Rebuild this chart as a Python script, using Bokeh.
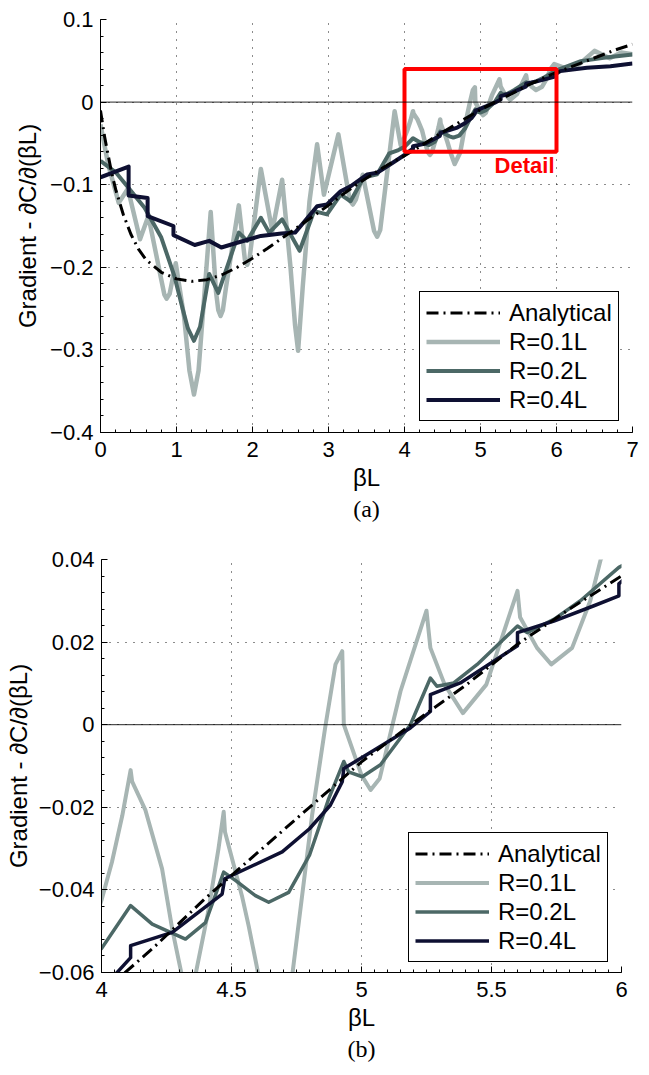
import numpy as np
from bokeh.plotting import figure
from bokeh.models import (Span, Legend, LegendItem, FixedTicker,
                          CustomJSTickFormatter, Title, Range1d)
from bokeh.core.properties import value
from bokeh.embed import file_html
from bokeh.resources import INLINE

# ---------------------------------------------------------------- data
# Analytical gradient
x_analytical = [0.0, 0.05, 0.1, 0.15, 0.2, 0.3, 0.4, 0.5, 0.6, 0.8, 1.0, 1.2, 1.4,
                1.6, 1.8, 2.0, 2.2, 2.4, 2.6, 2.8, 3.0, 3.2, 3.4, 3.6, 3.8, 4.0,
                4.2, 4.4, 4.6, 4.8, 5.0, 5.2, 5.4, 5.6, 5.8, 6.0, 6.2, 6.4, 6.6,
                6.8, 7.0]
y_analytical = [-0.010, -0.040, -0.064, -0.087, -0.106, -0.136, -0.160, -0.178,
                -0.191, -0.206, -0.214, -0.217, -0.215, -0.209, -0.200, -0.189,
                -0.177, -0.164, -0.151, -0.138, -0.125, -0.111, -0.098, -0.086,
                -0.075, -0.065, -0.054, -0.042, -0.031, -0.020, -0.009, 0.0005,
                0.0095, 0.0195, 0.028, 0.036, 0.043, 0.050, 0.057, 0.064, 0.070]

# R = 0.1L
x_r01 = [0.00, 0.10, 0.24, 0.36, 0.52, 0.63, 0.80, 0.84, 0.87, 0.91, 0.99, 1.10,
         1.17, 1.23, 1.29, 1.45, 1.52, 1.55, 1.58, 1.61, 1.65, 1.82, 1.90, 1.93,
         1.96, 2.11, 2.26, 2.39, 2.50, 2.56, 2.60, 2.66, 2.75, 2.85, 2.94, 3.13,
         3.28, 3.32, 3.36, 3.45, 3.60, 3.64, 3.68, 3.87, 3.95, 4.00,
         4.04, 4.08, 4.112, 4.118, 4.169, 4.233, 4.272, 4.31, 4.335, 4.36, 4.41,
         4.45, 4.47, 4.475, 4.54, 4.566, 4.605, 4.66, 4.733, 4.81, 4.86, 4.90,
         4.926, 4.932, 5.00, 5.035, 5.07, 5.15, 5.25, 5.265, 5.32, 5.39, 5.48,
         5.60, 5.61, 5.675, 5.73, 5.81, 5.88, 5.92, 5.97, 6.15, 6.30, 6.50,
         6.70, 6.85, 7.00]
y_r01 = [-0.027, -0.075, -0.122, -0.105, -0.166, -0.138, -0.215, -0.233, -0.238,
         -0.232, -0.195, -0.260, -0.325, -0.354, -0.325, -0.133, -0.230, -0.252,
         -0.259, -0.252, -0.225, -0.125, -0.191, -0.197, -0.190, -0.081, -0.156,
         -0.094, -0.200, -0.270, -0.301, -0.225, -0.120, -0.051, -0.112, -0.039,
         -0.119, -0.124, -0.118, -0.088, -0.156, -0.163, -0.155, -0.011, -0.052,
         -0.0425, -0.0333, -0.022, -0.0110, -0.0138, -0.0207, -0.0349, -0.0495,
         -0.061, -0.064, -0.061, -0.0454, -0.030, -0.0211, -0.026, -0.0414,
         -0.0487, -0.061, -0.075, -0.061, -0.0219, -0.0008, 0.0146, 0.0178, 0.0,
         -0.0122, -0.0158, -0.0130, 0.0081, 0.0276, 0.0186, 0.0097, 0.0028,
         0.0097, 0.0324, 0.026, 0.0186, 0.0146, 0.0186, 0.030, 0.040, 0.046,
         0.040, 0.046, 0.062, 0.053, 0.060, 0.058]

# R = 0.2L
x_r02 = [0.00, 0.20, 0.37, 0.58, 0.80, 0.97, 1.08, 1.15, 1.23, 1.31, 1.43, 1.55,
         1.82, 1.93, 2.11, 2.22, 2.39, 2.62, 2.81, 2.98, 3.16, 3.29, 3.46, 3.64,
         3.80, 3.92, 4.00, 4.112, 4.195, 4.323, 4.40, 4.47, 4.515, 4.592, 4.643,
         4.72, 4.80, 4.874, 4.932, 4.95, 5.003, 5.073, 5.188, 5.265, 5.29, 5.355,
         5.445, 5.60, 5.637, 5.74, 5.842, 5.99, 6.32, 6.62, 7.00]
y_r02 = [-0.071, -0.085, -0.104, -0.128, -0.164, -0.210, -0.250, -0.274, -0.289,
         -0.272, -0.208, -0.231, -0.158, -0.168, -0.140, -0.158, -0.142, -0.180,
         -0.132, -0.136, -0.112, -0.120, -0.0915, -0.0875, -0.062, -0.058,
         -0.0542, -0.0438, -0.0483, -0.0519, -0.0479, -0.0357, -0.0377, -0.0414,
         -0.0430, -0.0406, -0.0316, -0.0179, -0.0089, -0.0114, -0.0126, -0.0097,
         0.0, 0.0113, 0.0093, 0.0101, 0.0146, 0.0239, 0.0223, 0.0255, 0.0300,
         0.0381, 0.0496, 0.0536, 0.0577]

# R = 0.4L
x_r04 = [0.00, 0.37, 0.37, 0.62, 0.62, 0.96, 0.96, 1.24, 1.43, 1.59, 1.81, 2.11,
         2.38, 2.56, 2.67, 2.85, 2.98, 3.16, 3.29, 3.51, 3.64, 3.82, 4.00, 4.054,
         4.112, 4.112, 4.272, 4.464, 4.474, 4.695, 4.80, 4.88, 4.926, 4.932,
         5.04, 5.188, 5.265, 5.265, 5.38, 5.60, 5.60, 5.74, 5.894, 5.99, 5.99,
         6.05, 6.40, 6.71, 7.00]
y_r04 = [-0.091, -0.078, -0.113, -0.116, -0.138, -0.150, -0.161, -0.173, -0.168,
         -0.176, -0.170, -0.162, -0.159, -0.158, -0.146, -0.126, -0.124, -0.108,
         -0.102, -0.0875, -0.0855, -0.075, -0.064, -0.0604, -0.0564, -0.0535,
         -0.0503, -0.0410, -0.0373, -0.0308, -0.0252, -0.0195, -0.0138, -0.0106,
         -0.0065, -0.0008, 0.0032, 0.0073, 0.0101, 0.0191, 0.0223, 0.0251,
         0.0288, 0.0312, 0.0341, 0.0375, 0.0415, 0.0435, 0.0468]

# Detail window (shown as a box in panel a, as the axes of panel b)
detail_x = [4.0, 6.0]
detail_y = [-0.06, 0.04]

# Axis ticks
a_xticks = [0, 1, 2, 3, 4, 5, 6, 7]
a_xlabels = ["0", "1", "2", "3", "4", "5", "6", "7"]
a_yticks = [-0.4, -0.3, -0.2, -0.1, 0.0, 0.1]
a_ylabels = ["\u22120.4", "\u22120.3", "\u22120.2", "\u22120.1", "0", "0.1"]
b_xticks = [4.0, 4.5, 5.0, 5.5, 6.0]
b_xlabels = ["4", "4.5", "5", "5.5", "6"]
b_yticks = [-0.06, -0.04, -0.02, 0.0, 0.02, 0.04]
b_ylabels = ["\u22120.06", "\u22120.04", "\u22120.02", "0", "0.02", "0.04"]

series_labels = ["Analytical", "R=0.1L", "R=0.2L", "R=0.4L"]

# ---------------------------------------------------------------- style
FONT = "Liberation Sans"
C_LIGHT = "#a7b5b3"
C_MID = "#4c6866"
C_DARK = "#0e1032"


def label_formatter(tick_values, tick_labels):
    return CustomJSTickFormatter(
        args=dict(tick_values=tick_values, tick_labels=tick_labels), code="""
        for (let i = 0; i < tick_values.length; i++) {
            if (Math.abs(tick_values[i] - tick) < 1e-9) { return tick_labels[i]; }
        }
        return "";
    """)


def panel(xr, yr, xticks, xlabels, yticks, ylabels, xminor, yminor, caption,
          height, borders, legend_loc, lw, ylabel_standoff):
    left, right, top, bottom = borders
    p = figure(width=649, height=height, x_range=Range1d(*xr), y_range=Range1d(*yr),
               output_backend="svg", toolbar_location=None,
               min_border_left=left, min_border_right=right,
               min_border_top=top, min_border_bottom=bottom)
    p.outline_line_color = None
    p.background_fill_color = "white"
    p.border_fill_color = "white"

    p.xaxis.ticker = FixedTicker(ticks=xticks, minor_ticks=xminor)
    p.yaxis.ticker = FixedTicker(ticks=yticks, minor_ticks=yminor)
    p.xaxis.formatter = label_formatter(xticks, xlabels)
    p.yaxis.formatter = label_formatter(yticks, ylabels)

    for ax in (p.xaxis[0], p.yaxis[0]):
        ax.axis_line_color = "black"
        ax.axis_line_width = 1
        ax.major_tick_in = 6
        ax.major_tick_out = 0
        ax.minor_tick_in = 3
        ax.minor_tick_out = 0
        ax.major_tick_line_color = "black"
        ax.minor_tick_line_color = "black"
        ax.major_label_text_font = FONT
        ax.major_label_text_font_size = "22px"
        ax.major_label_text_color = "black"
        ax.axis_label_text_font = FONT
        ax.axis_label_text_font_size = "24px"
        ax.axis_label_text_font_style = "normal"
        ax.axis_label_text_color = "black"

    p.xaxis.axis_label = "\u03b2L"
    p.yaxis.axis_label = "Gradient - \u2202C/\u2202(\u03b2L)"
    p.xaxis.major_label_standoff = 9
    p.xaxis.axis_label_standoff = 4
    p.yaxis.major_label_standoff = 7
    p.yaxis.axis_label_standoff = ylabel_standoff

    p.xgrid.ticker = FixedTicker(ticks=xticks)
    p.ygrid.ticker = FixedTicker(ticks=yticks)
    for g in (p.xgrid[0], p.ygrid[0]):
        g.grid_line_color = "black"
        g.grid_line_width = 1
        g.grid_line_dash = "1 7"
        g.grid_line_alpha = 0.9

    p.add_layout(Span(location=0, dimension="width", line_color="black",
                      line_width=1, line_alpha=0.85))

    r1 = p.line(x_r01, y_r01, line_color=C_LIGHT, line_width=lw + 0.5,
                line_join="round")
    r2 = p.line(x_r02, y_r02, line_color=C_MID, line_width=lw, line_join="round")
    r4 = p.line(x_r04, y_r04, line_color=C_DARK, line_width=lw, line_join="round")
    ra = p.line(x_analytical, y_analytical, line_color="black", line_width=3,
                line_dash="12 5 2 5")

    legend = Legend(items=[LegendItem(label=series_labels[0], renderers=[ra]),
                           LegendItem(label=series_labels[1], renderers=[r1]),
                           LegendItem(label=series_labels[2], renderers=[r2]),
                           LegendItem(label=series_labels[3], renderers=[r4])],
                    location=legend_loc)
    legend.label_text_font = FONT
    legend.label_text_font_size = "24px"
    legend.label_text_color = "black"
    legend.border_line_color = "black"
    legend.border_line_width = 1
    legend.border_line_alpha = 1
    legend.background_fill_color = "white"
    legend.background_fill_alpha = 1
    legend.padding = 6
    legend.spacing = 0
    legend.margin = 0
    legend.glyph_width = 74
    legend.glyph_height = 29
    legend.label_height = 29
    legend.label_standoff = 9
    p.add_layout(legend)

    p.add_layout(Title(text=caption, align="center", text_font="Liberation Serif",
                       text_font_size="24px", text_font_style="normal",
                       text_color="black", standoff=0), "below")
    return p


a_xminor = [round(v, 3) for v in np.arange(0, 7.0001, 0.2)]
a_yminor = [round(v, 3) for v in np.arange(-0.4, 0.1001, 0.02)]
b_xminor = [round(v, 3) for v in np.arange(4.0, 6.0001, 0.05)]
b_yminor = [round(v, 4) for v in np.arange(-0.06, 0.0401, 0.004)]

pa = panel((0, 7), (-0.4, 0.1), a_xticks, a_xlabels, a_yticks, a_ylabels,
           a_xminor, a_yminor, "(a)", 535, (100, 17, 19, 103), (319, 11), 4, 6)

# Detail window marker on the overview panel
pa.quad(left=[detail_x[0]], right=[detail_x[1]], bottom=[detail_y[0]],
        top=[detail_y[1]], fill_color=None, line_color="#ff0000", line_width=4)
pa.text(x=[detail_x[1]], y=[detail_y[0]], text=["Detail"], text_align="right",
        text_baseline="top", text_color="#ff0000", text_font=value(FONT),
        text_font_style="bold", text_font_size="22px", x_offset=-2, y_offset=1)

pb = panel(tuple(detail_x), tuple(detail_y), b_xticks, b_xlabels, b_yticks,
           b_ylabels, b_xminor, b_yminor, "(b)", 540, (101, 28, 24, 103),
           (307, 10), 3.5, 4)

# the two panels are separate roots stacked in the page
open("out.html", "w").write(file_html([pa, pb], INLINE))
